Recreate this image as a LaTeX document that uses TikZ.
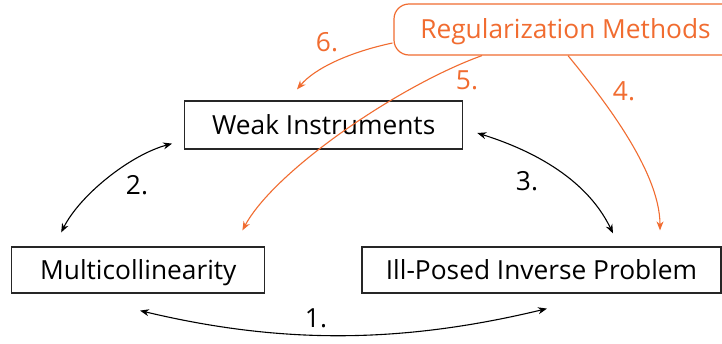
\documentclass[tikz,border=0pt]{standalone}
\usepackage{fontspec}
\setmainfont{Open Sans}
\usetikzlibrary{arrows.meta,calc}
\definecolor{rorange}{RGB}{241,108,48}
\tikzset{
  txt/.style={inner sep=0pt, text height=18.6pt, text depth=0pt, font=\fontsize{26.3}{31}\selectfont},
  box/.style={txt, draw=black!85, line width=1.2pt},
  regbox/.style={txt, draw=rorange, text=rorange, line width=1.2pt, rounded corners=15pt},
  lbl/.style={txt},
  olbl/.style={txt, text=rorange},
  blk/.style={draw=black, line width=1.1pt, {Stealth[length=9pt,width=7pt]}-{Stealth[length=9pt,width=7pt]}},
  org/.style={draw=rorange, line width=1.1pt, -{Stealth[length=9pt,width=7pt]}}
}
\begin{document}
\begin{tikzpicture}[x=1pt,y=-1pt]
\clip (0,0) rectangle (722,343);
\fill[white] (0,0) rectangle (722,343);
% boxes
\node[box, minimum width=278pt, minimum height=48pt] (weak) at (323.7,125) {Weak Instruments};
\node[box, minimum width=253pt, minimum height=46pt] (multi) at (138.3,270) {Multicollinearity};
\node[box, minimum width=359pt, minimum height=46pt] (ill) at (541.5,270) {Ill-Posed Inverse Problem};
\node[regbox, minimum width=343pt, minimum height=51pt] (reg) at (565.5,29.5) {Regularization Methods};
% labels
\node[lbl] (l1) at (316,318) {1.};
\node[lbl] (l2) at (137,185) {2.};
\node[lbl] (l3) at (527,181) {3.};
\node[olbl] (l4) at (624,91) {4.};
\node[olbl] (l5) at (467,80) {5.};
\node[olbl] (l6) at (327,42) {6.};
% black double arrows
\draw[blk] ($(multi.south)+(1.7,17)$) .. controls (280,344) and (400,344) .. ($(ill.south)+(5.5,15)$);
\draw[blk] ($(weak.south west)+(-12,-6)$) .. controls (130,155) and (80,195) .. ($(multi.north west)+(50,-14)$);
\draw[blk] ($(weak.east)+(14,8)$) .. controls (525,148) and (585,175) .. ($(ill.north)+(71.5,-13)$);
% orange arrows
\draw[org] ($(reg.south)+(2.5,0)$) .. controls (600,95) and (660,170) .. ($(ill.north)+(118.5,-16)$);
\draw[org] ($(reg.south)+(-83.5,0)$) .. controls (400,85) and (275,170) .. ($(multi.north east)+(-23,-16)$);
\draw[org] ($(reg.west)+(-1,13.5)$) .. controls (350,52) and (315,68) .. ($(weak.north)+(-26.7,-11)$);
\end{tikzpicture}
\end{document}
